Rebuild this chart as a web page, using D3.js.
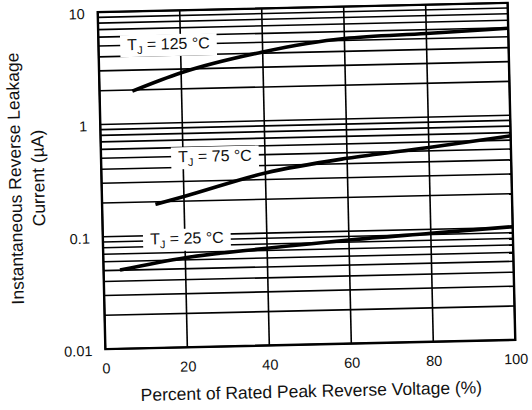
<!DOCTYPE html>
<html>
<head>
<meta charset="utf-8">
<script src="https://cdn.jsdelivr.net/npm/d3@7"></script>
<style>
  html, body { margin: 0; padding: 0; background: #fff; }
  svg { display: block; }
  text { font-family: "Liberation Sans", Arial, Helvetica, sans-serif; fill: #111; }
</style>
</head>
<body>
<svg id="chart" width="532" height="410"></svg>
<script>
// Reverse leakage current vs. percent of rated peak reverse voltage
const xTickValues = [0, 20, 40, 60, 80, 100];
const yTickValues = [0.01, 0.1, 1, 10];
const yTickLabels = ["0.01", "0.1", "1", "10"];

const voltagePct125 = [8, 20, 40, 60, 80, 100];
const leakage125    = [1.95, 2.78, 4.1, 5.2, 5.55, 5.95];

const voltagePct75  = [13, 20, 40, 60, 80, 100];
const leakage75     = [0.19, 0.22, 0.343, 0.446, 0.535, 0.655];

const voltagePct25  = [4, 20, 40, 60, 80, 100];
const leakage25     = [0.0502, 0.0627, 0.0732, 0.0835, 0.0922, 0.1017];

const seriesTemps = ["125", "75", "25"];

const xTitle = "Percent of Rated Peak Reverse Voltage (%)";
const yTitleLines = ["Instantaneous Reverse Leakage", "Current (\u00B5A)"];

// layout
const plot = { left: 101.5, right: 511.5, top: 7.5, bottom: 344.5 };
const tilt = -1.3;
const cx = (plot.left + plot.right) / 2, cy = 176.25;

const svg = d3.select("#chart");
const root = svg.append("g").attr("transform", `rotate(${tilt}, ${cx}, ${cy})`);

const x = d3.scaleLinear().domain([0, 100]).range([plot.left, plot.right]);
const y = d3.scaleLog().domain([0.01, 10]).range([plot.bottom, plot.top]);

// grid: every 1..9 step of each decade
const minorValues = [];
[0.01, 0.1, 1].forEach(d => { for (let k = 1; k <= 9; k++) minorValues.push(d * k); });
minorValues.push(10);

const grid = root.append("g").attr("stroke", "#000").attr("stroke-width", 1.6);
grid.selectAll("line.h").data(minorValues).join("line")
  .attr("class", "h")
  .attr("x1", plot.left).attr("x2", plot.right)
  .attr("y1", d => y(d)).attr("y2", d => y(d));
grid.selectAll("line.v").data(xTickValues).join("line")
  .attr("class", "v")
  .attr("x1", d => x(d)).attr("x2", d => x(d))
  .attr("y1", plot.top).attr("y2", plot.bottom);

// series curves
const seriesData = [
  d3.zip(voltagePct125, leakage125),
  d3.zip(voltagePct75, leakage75),
  d3.zip(voltagePct25, leakage25)
];
const line = d3.line().x(d => x(d[0])).y(d => y(d[1])).curve(d3.curveMonotoneX);
root.append("g").selectAll("path").data(seriesData).join("path")
  .attr("d", line)
  .attr("fill", "none")
  .attr("stroke", "#000")
  .attr("stroke-width", 3.6);

// temperature labels on white boxes
const labelAnchors = [[7, 5.1], [18.8, 0.5], [11.5, 0.094]];
const labels = root.append("g");
seriesTemps.forEach((t, i) => {
  const g = labels.append("g");
  const txt = g.append("text")
    .attr("x", x(labelAnchors[i][0]))
    .attr("y", y(labelAnchors[i][1]))
    .attr("dy", "0.36em")
    .attr("font-size", 16);
  txt.append("tspan").text("T");
  txt.append("tspan").attr("font-size", 11).attr("dy", 4).text("J");
  txt.append("tspan").attr("dy", -4).text(` = ${t} \u00B0C`);
  const bb = txt.node().getBBox();
  g.insert("rect", "text")
    .attr("x", bb.x - 7).attr("y", bb.y - 1)
    .attr("width", bb.width + 14).attr("height", bb.height + 2)
    .attr("fill", "#fff");
});

// frame
root.append("rect")
  .attr("x", plot.left).attr("y", plot.top)
  .attr("width", plot.right - plot.left).attr("height", plot.bottom - plot.top)
  .attr("fill", "none").attr("stroke", "#000").attr("stroke-width", 2.4);

// axes (labels only)
const xAxis = d3.axisBottom(x).tickValues(xTickValues).tickSize(0).tickPadding(14).tickFormat(d3.format("d"));
const xg = root.append("g").attr("transform", `translate(0, ${plot.bottom})`).call(xAxis);
xg.select(".domain").remove();
xg.selectAll("text").attr("font-size", 14.5).attr("fill", "#111").attr("font-family", null);

const yAxis = d3.axisLeft(y).tickValues(yTickValues).tickSize(0).tickPadding(13)
  .tickFormat((d, i) => yTickLabels[i]);
const yg = root.append("g").attr("transform", `translate(${plot.left}, 0)`).call(yAxis);
yg.select(".domain").remove();
yg.selectAll("text").attr("font-size", 14.5).attr("fill", "#111").attr("font-family", null).attr("dy", "0.42em");

// titles
root.append("text")
  .attr("x", cx).attr("y", 391).attr("dy", "0.35em")
  .attr("text-anchor", "middle").attr("font-size", 17.5)
  .text(xTitle);

const yt = root.append("text")
  .attr("transform", `translate(15, 172) rotate(-90)`)
  .attr("text-anchor", "middle").attr("font-size", 17.5);
yTitleLines.forEach((s, i) => {
  yt.append("tspan").attr("x", 0).attr("y", i * 23).attr("dy", "0.35em").text(s);
});
</script>
</body>
</html>
